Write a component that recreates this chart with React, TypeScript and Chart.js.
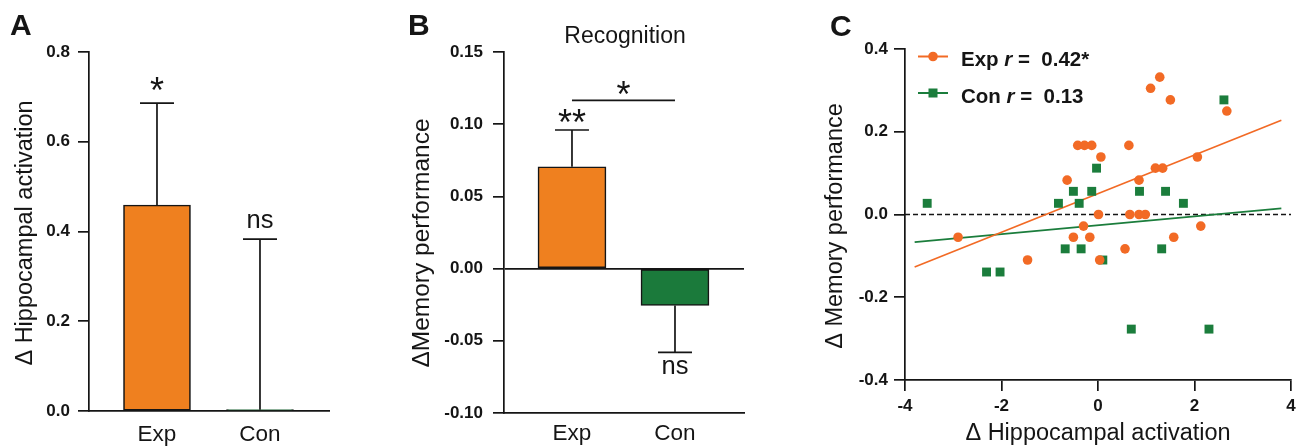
import React, { useEffect, useRef } from 'react';
import { Chart, registerables } from 'chart.js';

Chart.register(...registerables);

// ---------------- data ----------------
const groups = ['Exp', 'Con'];

// Panel A: Δ hippocampal activation
const hippoMean = [0.459, 0.003];
const hippoErrUp = [0.227, 0.38];
const hippoSig = ['*', 'ns'];

// Panel B: Δ memory performance (Recognition)
const memMean = [0.0705, -0.0255];
const memErr = [0.0255, 0.0325];
const memSig = ['**', 'ns'];
const memBracketY = 0.1165;
const memBracketSig = '*';

// Panel C: correlation scatter
const expX = [-2.9, -1.46, -0.64, -0.42, -0.28, -0.13, 0.06, -0.51, -0.3, -0.17, 0.01, 0.035, 0.56, 0.64, 0.66, 0.85, 0.85, 0.98, 1.09, 1.28, 1.5, 1.19, 1.34, 1.57, 2.06, 2.13, 2.67];
const expY = [-0.055, -0.11, 0.083, 0.167, 0.167, 0.167, 0.139, -0.055, -0.028, -0.055, 0.0, -0.11, -0.083, 0.167, 0.0, 0.083, 0.0, 0.0, 0.305, 0.332, 0.277, 0.112, 0.112, -0.055, 0.139, -0.028, 0.25];
const conX = [-3.54, -2.31, -2.03, -0.82, -0.68, -0.51, -0.39, -0.35, -0.13, -0.03, 0.1, 0.69, 0.86, 1.32, 1.4, 1.77, 2.3, 2.61];
const conY = [0.027, -0.139, -0.139, 0.027, -0.083, 0.056, 0.027, -0.083, 0.056, 0.112, -0.11, -0.277, 0.056, -0.083, 0.056, 0.027, -0.277, 0.277];
const expFitX = [-3.8, 3.8];
const expFitY = [-0.127, 0.228];
const conFitX = [-3.8, 3.8];
const conFitY = [-0.067, 0.015];
const zeroX = [-4, 4];
const zeroY = [0, 0];
const legendNames = ['Exp', 'Con'];
const legendR = ['0.42*', '0.13'];

// ---------------- style ----------------
const H = 448;
const INK = '#151515';
const FAMILY = '"Liberation Sans", Arial, Helvetica, sans-serif';
const ORANGE_BAR = '#EF801F';
const GREEN_BAR = '#1B7A3B';
const ORANGE_PT = '#F26A25';
const GREEN_PT = '#1B7D3C';

Chart.defaults.font.family = FAMILY;
Chart.defaults.color = INK;

const pts = (xs: number[], ys: number[]) => xs.map((x, i) => ({ x, y: ys[i] }));

function glyphCentered(ctx: CanvasRenderingContext2D, text: string, cx: number, cy: number, font: string) {
  ctx.save();
  ctx.font = font;
  ctx.fillStyle = INK;
  ctx.textAlign = 'center';
  ctx.textBaseline = 'alphabetic';
  const m = ctx.measureText(text);
  ctx.fillText(text, cx, cy + (m.actualBoundingBoxAscent - m.actualBoundingBoxDescent) / 2);
  ctx.restore();
}

function plainText(ctx: CanvasRenderingContext2D, text: string, x: number, y: number, font: string, align: CanvasTextAlign = 'left') {
  ctx.save();
  ctx.font = font;
  ctx.fillStyle = INK;
  ctx.textAlign = align;
  ctx.textBaseline = 'alphabetic';
  ctx.fillText(text, x, y);
  ctx.restore();
}

function rotatedTitle(ctx: CanvasRenderingContext2D, text: string, cx: number, cy: number, font: string) {
  ctx.save();
  ctx.translate(cx, cy);
  ctx.rotate(-Math.PI / 2);
  ctx.font = font;
  ctx.fillStyle = INK;
  ctx.textAlign = 'center';
  ctx.textBaseline = 'middle';
  ctx.fillText(text, 0, 0);
  ctx.restore();
}

function errorBars(means: number[], errs: number[], capHalf: number) {
  return {
    id: 'errorBars',
    afterDatasetsDraw(chart: any) {
      const { ctx } = chart;
      const xs = chart.scales.x;
      const ys = chart.scales.y;
      ctx.save();
      ctx.strokeStyle = INK;
      ctx.lineWidth = 1.7;
      means.forEach((m, i) => {
        const dir = m >= 0 ? 1 : -1;
        const px = xs.getPixelForValue(i);
        const y0 = ys.getPixelForValue(m);
        const y1 = ys.getPixelForValue(m + dir * errs[i]);
        ctx.beginPath();
        ctx.moveTo(px, y0);
        ctx.lineTo(px, y1);
        ctx.moveTo(px - capHalf, y1);
        ctx.lineTo(px + capHalf, y1);
        ctx.stroke();
      });
      ctx.restore();
    },
  };
}

const tickFont = { size: 17, weight: 'bold' as const };
const catFont = { size: 22.5 };
const STAR_FONT = `36px ${FAMILY}`;
const NS_FONT = `25.5px ${FAMILY}`;

function categoryX(minV: number, maxV: number, h: number, pad: number) {
  return {
    type: 'linear' as const,
    min: minV,
    max: maxV,
    offset: false,
    afterFit: (s: any) => { s.height = h; },
    afterBuildTicks: (s: any) => { s.ticks = groups.map((_, i) => ({ value: i })); },
    grid: { display: false, drawTicks: false, offset: false },
    border: { display: true, color: INK, width: 1.7 },
    ticks: { callback: (v: any) => groups[v as number], font: catFont, color: INK, padding: pad, autoSkip: false, maxRotation: 0 },
  };
}

// ---------------- panel configs ----------------
function makeA(): any {
  return {
    type: 'bar',
    data: {
      datasets: [{
        data: pts([0, 1], hippoMean),
        backgroundColor: [ORANGE_BAR, GREEN_BAR],
        borderColor: INK,
        borderWidth: 1.6,
        borderSkipped: false,
        barThickness: 67,
      }],
    },
    options: {
      responsive: false,
      animation: false,
      layout: { padding: { top: 52, right: 71, bottom: 0, left: 0 } },
      plugins: { legend: { display: false }, tooltip: { enabled: false } },
      scales: {
        x: categoryX(-0.66, 1.67, 37, 10),
        y: {
          min: 0, max: 0.8,
          afterFit: (s: any) => { s.width = 89; },
          ticks: { stepSize: 0.2, callback: (v: any) => Number(v).toFixed(1), font: tickFont, color: INK, padding: 8 },
          grid: { drawOnChartArea: false, drawTicks: true, tickLength: 11, color: INK, lineWidth: 1.7 },
          border: { display: true, color: INK, width: 1.7 },
        },
      },
    },
    plugins: [
      errorBars(hippoMean, hippoErrUp, 17),
      {
        id: 'textA',
        afterDraw(chart: any) {
          const { ctx } = chart;
          const xs = chart.scales.x, ys = chart.scales.y;
          plainText(ctx, 'A', 10, 35, `bold 30px ${FAMILY}`);
          rotatedTitle(ctx, 'Δ Hippocampal activation', 26, 233, `23.5px ${FAMILY}`);
          hippoSig.forEach((s, i) => {
            const px = xs.getPixelForValue(i);
            const top = ys.getPixelForValue(hippoMean[i] + hippoErrUp[i]);
            if (s === 'ns') glyphCentered(ctx, s, px, top - 18.5, NS_FONT);
            else glyphCentered(ctx, s, px, top - 19.5, STAR_FONT);
          });
        },
      },
    ],
  };
}

function makeB(): any {
  return {
    type: 'bar',
    data: {
      datasets: [{
        data: pts([0, 1], memMean),
        backgroundColor: [ORANGE_BAR, GREEN_BAR],
        borderColor: INK,
        borderWidth: 1.6,
        borderSkipped: false,
        barThickness: 68,
      }],
    },
    options: {
      responsive: false,
      animation: false,
      layout: { padding: { top: 52, right: 16, bottom: 0, left: 0 } },
      plugins: { legend: { display: false }, tooltip: { enabled: false } },
      scales: {
        x: categoryX(-0.66, 1.67, 35, 7),
        y: {
          min: -0.1, max: 0.15,
          afterFit: (s: any) => { s.width = 104; },
          ticks: { stepSize: 0.05, callback: (v: any) => Number(v).toFixed(2), font: tickFont, color: INK, padding: 10 },
          grid: {
            drawOnChartArea: true, drawTicks: true, tickLength: 11,
            color: (c: any) => (c.tick && Math.abs(c.tick.value) < 1e-9 ? INK : 'rgba(0,0,0,0)'),
            tickColor: INK, lineWidth: 1.7, tickWidth: 1.7,
          },
          border: { display: true, color: INK, width: 1.7 },
        },
      },
    },
    plugins: [
      errorBars(memMean, memErr, 17),
      {
        id: 'textB',
        afterDraw(chart: any) {
          const { ctx } = chart;
          const xs = chart.scales.x, ys = chart.scales.y;
          plainText(ctx, 'B', 8, 35, `bold 30px ${FAMILY}`);
          plainText(ctx, 'Recognition', 225, 43, `23px ${FAMILY}`, 'center');
          rotatedTitle(ctx, 'ΔMemory performance', 22, 243, `24.5px ${FAMILY}`);
          memSig.forEach((s, i) => {
            const px = xs.getPixelForValue(i);
            const m = memMean[i];
            const dir = m >= 0 ? 1 : -1;
            const end = ys.getPixelForValue(m + dir * memErr[i]);
            if (s === 'ns') glyphCentered(ctx, s, px, end + (dir > 0 ? -18.5 : 14.5), NS_FONT);
            else glyphCentered(ctx, s, px, end + (dir > 0 ? -13.5 : 13.5), STAR_FONT);
          });
          const bx0 = xs.getPixelForValue(0), bx1 = xs.getPixelForValue(1);
          const by = ys.getPixelForValue(memBracketY);
          ctx.save();
          ctx.strokeStyle = INK;
          ctx.lineWidth = 1.7;
          ctx.beginPath();
          ctx.moveTo(bx0, by);
          ctx.lineTo(bx1, by);
          ctx.stroke();
          ctx.restore();
          glyphCentered(ctx, memBracketSig, (bx0 + bx1) / 2, by - 12.5, STAR_FONT);
        },
      },
    ],
  };
}

function makeC(): any {
  return {
    type: 'scatter',
    data: {
      datasets: [
        { label: 'Exp', data: pts(expX, expY), backgroundColor: ORANGE_PT, borderColor: ORANGE_PT, pointStyle: 'circle', pointRadius: 4.8, borderWidth: 0, order: 0 },
        { label: 'Con', data: pts(conX, conY), backgroundColor: GREEN_PT, borderColor: GREEN_PT, pointStyle: 'rect', pointRadius: 6.3, borderWidth: 0, order: 0 },
        { type: 'line', label: 'Exp fit', data: pts(expFitX, expFitY), borderColor: ORANGE_PT, borderWidth: 1.7, pointRadius: 0, fill: false, order: 1 },
        { type: 'line', label: 'Con fit', data: pts(conFitX, conFitY), borderColor: GREEN_PT, borderWidth: 1.7, pointRadius: 0, fill: false, order: 1 },
        { type: 'line', label: 'zero', data: pts(zeroX, zeroY), borderColor: INK, borderWidth: 1.7, borderDash: [5, 3], pointRadius: 0, fill: false, order: 2 },
      ],
    },
    options: {
      responsive: false,
      animation: false,
      layout: { padding: { top: 49, right: 10, bottom: 0, left: 0 } },
      plugins: { legend: { display: false }, tooltip: { enabled: false } },
      scales: {
        x: {
          type: 'linear', min: -4, max: 4,
          afterFit: (s: any) => { s.height = 68; },
          ticks: { stepSize: 2, callback: (v: any) => String(v), font: tickFont, color: INK, padding: 5 },
          grid: { drawOnChartArea: false, drawTicks: true, tickLength: 11, color: INK, lineWidth: 1.7 },
          border: { display: true, color: INK, width: 1.7 },
          title: { display: true, text: 'Δ Hippocampal activation', font: { size: 23.5 }, color: INK, padding: { top: 0, bottom: 0 } },
        },
        y: {
          type: 'linear', min: -0.4, max: 0.4,
          afterFit: (s: any) => { s.width = 85; },
          ticks: { stepSize: 0.2, callback: (v: any) => Number(v).toFixed(1), font: tickFont, color: INK, padding: 6 },
          grid: { drawOnChartArea: false, drawTicks: true, tickLength: 11, color: INK, lineWidth: 1.7 },
          border: { display: true, color: INK, width: 1.7 },
        },
      },
    },
    plugins: [
      {
        id: 'textC',
        afterDraw(chart: any) {
          const { ctx } = chart;
          plainText(ctx, 'C', 10, 36, `bold 30px ${FAMILY}`);
          rotatedTitle(ctx, 'Δ Memory performance', 16, 226, `23.5px ${FAMILY}`);
          const colors = [ORANGE_PT, GREEN_PT];
          const lineYs = [56.5, 93];
          const baseYs = [65.5, 103];
          legendNames.forEach((name, i) => {
            const ly = lineYs[i];
            ctx.save();
            ctx.strokeStyle = colors[i];
            ctx.fillStyle = colors[i];
            ctx.lineWidth = 2;
            ctx.beginPath();
            ctx.moveTo(98, ly);
            ctx.lineTo(128, ly);
            ctx.stroke();
            if (i === 0) {
              ctx.beginPath();
              ctx.arc(113, ly, 4.8, 0, Math.PI * 2);
              ctx.fill();
            } else {
              ctx.fillRect(108.5, ly - 4.5, 9, 9);
            }
            ctx.restore();
            const bold = `bold 20.5px ${FAMILY}`;
            const ital = `italic bold 20.5px ${FAMILY}`;
            let x = 141;
            const by = baseYs[i];
            ctx.save();
            ctx.font = bold;
            plainText(ctx, name + ' ', x, by, bold);
            x += ctx.measureText(name + ' ').width;
            ctx.restore();
            ctx.save();
            ctx.font = ital;
            plainText(ctx, 'r', x, by, ital);
            x += ctx.measureText('r').width;
            ctx.restore();
            plainText(ctx, ' =  ' + legendR[i], x, by, bold);
          });
        },
      },
    ],
  };
}

function ChartPanel({ left, width, make }: { left: number; width: number; make: () => any }) {
  const ref = useRef<HTMLCanvasElement | null>(null);
  useEffect(() => {
    if (!ref.current) return;
    const chart = new Chart(ref.current, make());
    return () => chart.destroy();
  }, []);
  return (
    <canvas
      ref={ref}
      width={width}
      height={H}
      style={{ position: 'absolute', left, top: 0, width, height: H, display: 'block' }}
    />
  );
}

export default function App() {
  return (
    <div style={{ position: 'fixed', left: 0, top: 0, width: 1301, height: H, background: '#ffffff', overflow: 'hidden' }}>
      <ChartPanel left={0} width={400} make={makeA} />
      <ChartPanel left={400} width={360} make={makeB} />
      <ChartPanel left={820} width={481} make={makeC} />
    </div>
  );
}
